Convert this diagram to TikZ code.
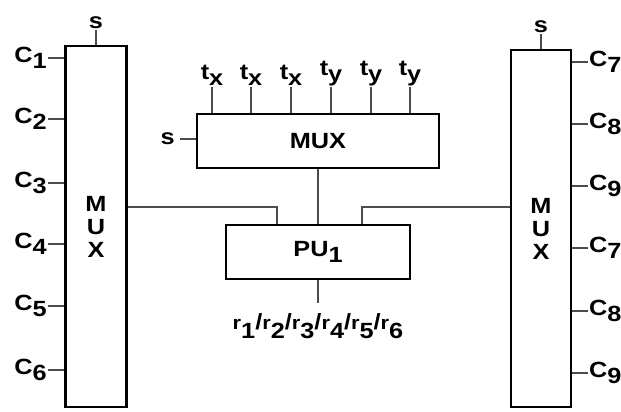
\documentclass[tikz,border=0pt]{standalone}
\usepackage{fontspec}
\setmainfont[FakeStretch=1.15]{Liberation Sans}
\usetikzlibrary{positioning}

\newcommand{\lowidx}[1]{\raisebox{-6pt}{#1}}
\newcommand{\rsub}[1]{{\fontsize{19}{19}\selectfont r}\raisebox{-9pt}{#1}}

\begin{document}
\begin{tikzpicture}[
  x=1pt, y=-1pt,
  font=\fontsize{22}{23}\selectfont\bfseries,
  muxbox/.style={rectangle, draw, line width=2.5pt, inner sep=0pt, align=center},
  wire/.style={draw=black!70, line width=1.3pt},
  lbl/.style={inner sep=1pt}
]
\useasboundingbox (0,0) rectangle (621,412);

% boxes
\node[muxbox, minimum width=61pt, minimum height=361pt] (lmux) at (96,226.5) {M\\U\\X};
\node[muxbox, minimum width=60pt, minimum height=357pt] (rmux) at (541,228.5) {M\\U\\X};
\node[muxbox, minimum width=242pt, minimum height=54pt] (tmux) at (318,141) {MUX};
\node[muxbox, minimum width=184pt, minimum height=54pt] (pu) at (318,252) {PU\lowidx{1}};

% select lines
\coordinate (lsel) at (96,30);
\coordinate (rsel) at (541,34);
\coordinate (tsel) at (180,139);
\draw[wire] (lsel) -- (lmux.north);
\draw[wire] (rsel) -- (rmux.north);
\draw[wire] (tsel) -- (tsel -| tmux.west);
\node[lbl, anchor=south] at (lsel) {s};
\node[lbl, anchor=south] at (rsel) {s};
\node[lbl, anchor=east, xshift=-4pt] at (tsel) {s};

% inputs of the left mux
\foreach \i/\y in {1/58, 2/119, 3/183, 4/244, 5/306, 6/370} {
  \coordinate (cin\i) at (48,\y);
  \draw[wire] (cin\i) -- (cin\i -| lmux.west);
  \node[lbl, anchor=east] at (cin\i) {C\lowidx{\i}};
}

% inputs of the right mux
\foreach \i/\c/\y in {1/7/62, 2/8/124, 3/9/186, 4/7/248, 5/8/311, 6/9/373} {
  \coordinate (cout\i) at (588,\y);
  \draw[wire] (cout\i) -- (cout\i -| rmux.east);
  \node[lbl, anchor=west] at (cout\i) {C\lowidx{\c}};
}

% inputs of the top mux
\foreach \i/\x/\s in {1/212/x, 2/251/x, 3/291/x, 4/331/y, 5/371/y, 6/410/y} {
  \coordinate (t\i) at (\x,87);
  \draw[wire] (t\i) -- (t\i |- tmux.north);
  \node[lbl, anchor=south] at (t\i) {t\lowidx{\s}};
}

% mux outputs into the PU
\coordinate (lj) at (277,207);
\coordinate (rj) at (362,207);
\draw[wire] (lmux.east |- lj) -- (lj) -- (lj |- pu.north);
\draw[wire] (rmux.west |- rj) -- (rj) -- (rj |- pu.north);
\draw[wire] (tmux) -- (pu);

% result
\coordinate (rout) at (318,303);
\draw[wire] (pu.south) -- (rout);
\node[lbl, anchor=north, yshift=-9pt] at (rout)
  {\rsub{1}/\rsub{2}/\rsub{3}/\rsub{4}/\rsub{5}/\rsub{6}};
\end{tikzpicture}
\end{document}
